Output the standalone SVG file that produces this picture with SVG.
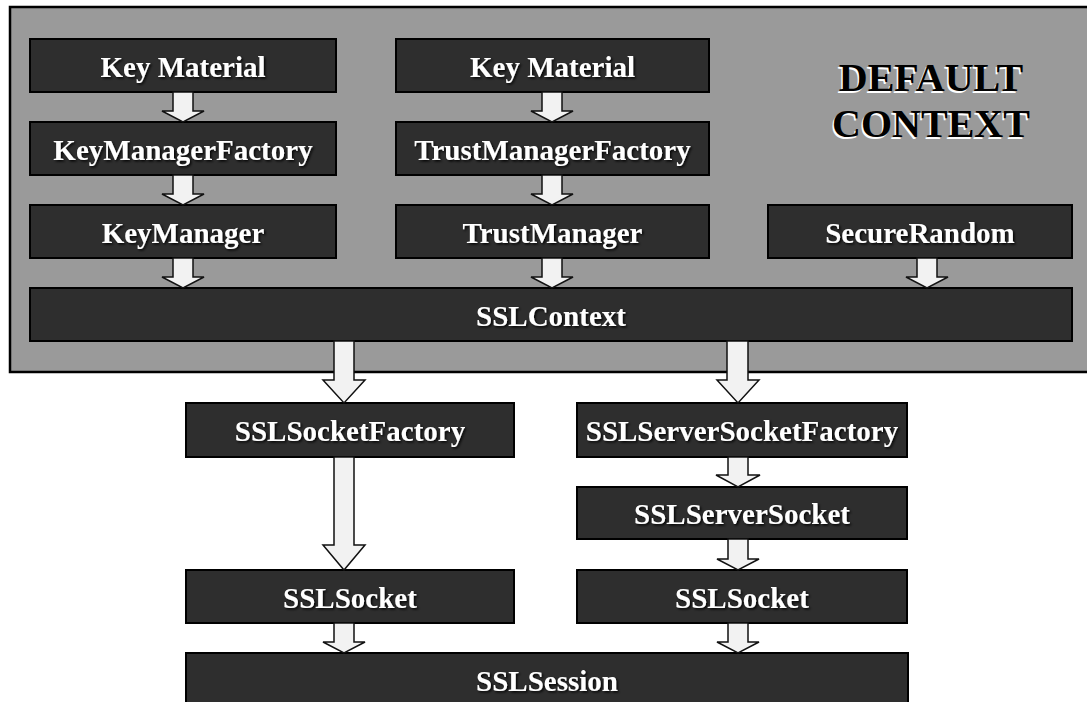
<svg xmlns="http://www.w3.org/2000/svg" width="1087" height="702" viewBox="0 0 1087 702">
  <style>
    .node rect { fill: #2e2e2e; stroke: #000; stroke-width: 2; }
    .node text { fill: #ffffff; font-family: "Liberation Serif", "Times New Roman", serif; font-weight: bold; font-size: 29px; text-anchor: middle; filter: url(#shadow); }
    .arrow { fill: #f2f2f2; stroke: #111; stroke-width: 1.5; stroke-linejoin: miter; }
    .title { font-family: "Liberation Serif", "Times New Roman", serif; font-weight: bold; font-size: 40px; text-anchor: middle; }
  </style>
  <defs>
    <filter id="shadow" x="-10%" y="-30%" width="120%" height="160%">
      <feDropShadow dx="1.5" dy="1.5" stdDeviation="0.8" flood-color="#000" flood-opacity="0.9"/>
    </filter>
  </defs>

  <rect width="1087" height="702" fill="#ffffff"/>

  <!-- default context container -->
  <g id="default-context">
    <rect x="10" y="7" width="1090" height="365" fill="#9a9a9a" stroke="#000" stroke-width="2.5"/>
    <g class="title">
      <text x="929.5" y="92.5" fill="#ffffff">DEFAULT</text>
      <text x="929.5" y="138.8" fill="#ffffff">CONTEXT</text>
      <text x="931" y="91" fill="#000000">DEFAULT</text>
      <text x="931" y="137.3" fill="#000000">CONTEXT</text>
    </g>
  </g>

  <!-- nodes -->
  <g id="key-material-1" class="node"><rect x="30" y="39" width="306" height="53"/><text x="183" y="76.5">Key Material</text></g>
  <g id="key-manager-factory" class="node"><rect x="30" y="122" width="306" height="53"/><text x="183" y="159.5">KeyManagerFactory</text></g>
  <g id="key-manager" class="node"><rect x="30" y="205" width="306" height="53"/><text x="183" y="242.5">KeyManager</text></g>

  <g id="key-material-2" class="node"><rect x="396" y="39" width="313" height="53"/><text x="552.5" y="76.5">Key Material</text></g>
  <g id="trust-manager-factory" class="node"><rect x="396" y="122" width="313" height="53"/><text x="552.5" y="159.5">TrustManagerFactory</text></g>
  <g id="trust-manager" class="node"><rect x="396" y="205" width="313" height="53"/><text x="552.5" y="242.5">TrustManager</text></g>

  <g id="secure-random" class="node"><rect x="768" y="205" width="304" height="53"/><text x="920" y="242.5">SecureRandom</text></g>

  <g id="ssl-context" class="node"><rect x="30" y="288" width="1042" height="53"/><text x="551" y="325.5">SSLContext</text></g>

  <g id="ssl-socket-factory" class="node"><rect x="186" y="403" width="328" height="54"/><text x="350" y="440.5">SSLSocketFactory</text></g>
  <g id="ssl-server-socket-factory" class="node"><rect x="577" y="403" width="330" height="54"/><text x="742" y="440.5">SSLServerSocketFactory</text></g>
  <g id="ssl-server-socket" class="node"><rect x="577" y="487" width="330" height="52"/><text x="742" y="523.5">SSLServerSocket</text></g>

  <g id="ssl-socket-client" class="node"><rect x="186" y="570" width="328" height="53"/><text x="350" y="607.5">SSLSocket</text></g>
  <g id="ssl-socket-server" class="node"><rect x="577" y="570" width="330" height="53"/><text x="742" y="607.5">SSLSocket</text></g>

  <g id="ssl-session" class="node"><rect x="186" y="653" width="722" height="62"/><text x="547" y="690.5">SSLSession</text></g>

  <!-- connectors: block arrows -->
  <g id="connectors">
    <path class="arrow" d="M173,92 L193,92 L193,111 L204,111 L183,122 L162,111 L173,111 Z"/>
    <path class="arrow" d="M173,175 L193,175 L193,194 L204,194 L183,205 L162,194 L173,194 Z"/>
    <path class="arrow" d="M173,258 L193,258 L193,277 L204,277 L183,288 L162,277 L173,277 Z"/>

    <path class="arrow" d="M542,92 L562,92 L562,111 L573,111 L552,122 L531,111 L542,111 Z"/>
    <path class="arrow" d="M542,175 L562,175 L562,194 L573,194 L552,205 L531,194 L542,194 Z"/>
    <path class="arrow" d="M542,258 L562,258 L562,277 L573,277 L552,288 L531,277 L542,277 Z"/>

    <path class="arrow" d="M917,258 L937,258 L937,277 L948,277 L927,288 L906,277 L917,277 Z"/>

    <path class="arrow" d="M334,341 L354,341 L354,380 L365,380 L344,403 L323,380 L334,380 Z"/>
    <path class="arrow" d="M727,341 L748,341 L748,380 L759,380 L738,403 L717,380 L727,380 Z"/>

    <path class="arrow" d="M334,457 L354,457 L354,545 L365,545 L344,570 L323,545 L334,545 Z"/>
    <path class="arrow" d="M728,457 L748,457 L748,475 L760,475 L738,487 L716,475 L728,475 Z"/>
    <path class="arrow" d="M728,539 L748,539 L748,559 L759,559 L738,570 L717,559 L728,559 Z"/>

    <path class="arrow" d="M334,623 L354,623 L354,642 L365,642 L344,653 L323,642 L334,642 Z"/>
    <path class="arrow" d="M728,623 L748,623 L748,642 L759,642 L738,653 L717,642 L728,642 Z"/>
  </g>
</svg>
